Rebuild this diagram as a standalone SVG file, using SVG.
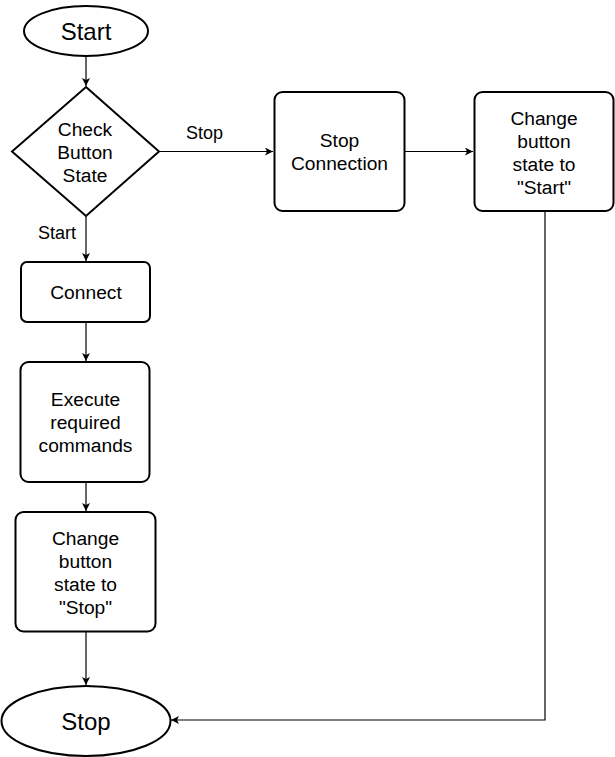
<svg xmlns="http://www.w3.org/2000/svg" width="615" height="757" viewBox="0 0 615 757">
<style>
.n{fill:#fff;stroke:#000;stroke-width:2}
.t{font-family:"Liberation Sans",Arial,sans-serif;font-size:19.2px;fill:#000;text-anchor:middle}
.big{font-size:24px}
.lbl{font-family:"Liberation Sans",Arial,sans-serif;font-size:18px;fill:#000;text-anchor:middle}
.e{fill:none;stroke:#000;stroke-width:1.2}
</style>
<defs>
<marker id="a" markerWidth="10" markerHeight="10" refX="8" refY="4" orient="auto" markerUnits="userSpaceOnUse">
<path d="M0,0 L8,4 L0,8 L2,4 Z" fill="#000"/>
</marker>
</defs>
<rect width="615" height="757" fill="#fff"/>
<g id="edges">
<path class="e" d="M86,57 L86,86" marker-end="url(#a)"/>
<path class="e" d="M86,216 L86,261" marker-end="url(#a)"/>
<path class="e" d="M86,322 L86,361" marker-end="url(#a)"/>
<path class="e" d="M86,482 L86,511" marker-end="url(#a)"/>
<path class="e" d="M86,631 L86,685" marker-end="url(#a)"/>
<path class="e" d="M159,151.5 L273,151.5" marker-end="url(#a)"/>
<path class="e" d="M405,151.5 L473,151.5" marker-end="url(#a)"/>
<path class="e" d="M545,211 L545,720 L171,720" marker-end="url(#a)"/>
<text class="lbl" x="204.5" y="139">Stop</text>
<text class="lbl" x="57" y="239">Start</text>
</g>
<g id="start">
<ellipse class="n" cx="86" cy="31" rx="62" ry="25"/>
<text class="t big" x="86" y="39.6">Start</text>
</g>
<g id="check">
<polygon class="n" points="86,87 159,151.5 86,216 12,151.5"/>
<text class="t" x="85" y="136.4">Check</text>
<text class="t" x="85" y="159.4">Button</text>
<text class="t" x="85" y="182.4">State</text>
</g>
<g id="connect">
<rect class="n" x="21" y="262" width="129" height="60" rx="6"/>
<text class="t" x="86" y="299">Connect</text>
</g>
<g id="execute">
<rect class="n" x="20.5" y="362" width="129" height="120" rx="8"/>
<text class="t" x="85.5" y="406">Execute</text>
<text class="t" x="85.5" y="429">required</text>
<text class="t" x="85.5" y="452">commands</text>
</g>
<g id="changeStop">
<rect class="n" x="15.5" y="512" width="140" height="119.5" rx="8"/>
<text class="t" x="85.5" y="545">Change</text>
<text class="t" x="85.5" y="568">button</text>
<text class="t" x="85.5" y="591">state to</text>
<text class="t" x="85.5" y="614">"Stop"</text>
</g>
<g id="stopConnection">
<rect class="n" x="274.5" y="92" width="130" height="119" rx="8"/>
<text class="t" x="339.5" y="147">Stop</text>
<text class="t" x="339.5" y="170">Connection</text>
</g>
<g id="changeStart">
<rect class="n" x="474.5" y="92" width="139" height="119" rx="8"/>
<text class="t" x="544" y="124.5">Change</text>
<text class="t" x="544" y="147.5">button</text>
<text class="t" x="544" y="170.5">state to</text>
<text class="t" x="544" y="193.5">"Start"</text>
</g>
<g id="stop">
<ellipse class="n" cx="86" cy="721" rx="84.5" ry="35"/>
<text class="t big" x="86" y="729.6">Stop</text>
</g>
</svg>
